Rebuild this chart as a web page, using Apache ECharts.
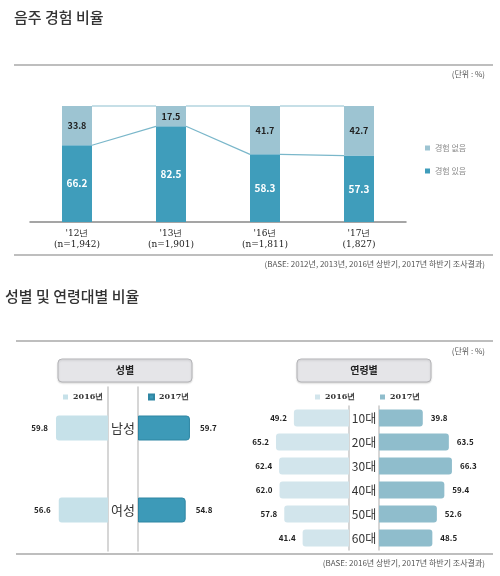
<!DOCTYPE html>
<html>
<head>
<meta charset="utf-8">
<script src="https://cdn.jsdelivr.net/npm/echarts@6/dist/echarts.min.js"></script>
<style>
    html, body {margin: 0; padding: 0; background: #fff;}
    #main {width: 500px; height: 576px;}
</style>
</head>
<body>
<div id="main"></div>
<script>
// 음주 경험 비율
var years = ["'12년\n(n=1,942)", "'13년\n(n=1,901)", "'16년\n(n=1,811)", "'17년\n(1,827)"];
var drinkYes = [66.2, 82.5, 58.3, 57.3];
var drinkNo = [33.8, 17.5, 41.7, 42.7];

// 성별
var genders = ['남성', '여성'];
var gender2016 = [59.8, 56.6];
var gender2017 = [59.7, 54.8];

// 연령별
var ages = ['10대', '20대', '30대', '40대', '50대', '60대'];
var age2016 = [49.2, 65.2, 62.4, 62.0, 57.8, 41.4];
var age2017 = [39.8, 63.5, 66.3, 59.4, 52.6, 48.5];

var FONT = "'Noto Sans CJK KR', 'Noto Sans', sans-serif";
var C_DARK = '#3f9dbb', C_LIGHT = '#9dc4d2';
var G16 = '#c6e1e9', G17 = '#3d9ab8';
var A16 = '#d2e5ec', A17 = '#8fbdcc';

var chart = echarts.init(document.getElementById('main'));

// 막대 사이 연결선
var links = [];
for (var i = 0; i < years.length - 1; i++) {
    links.push([i, drinkYes[i], drinkYes[i + 1]]);
}
var BAR_W = 30;

function hLine(x1, x2, y, w) {
    return {type: 'line', shape: {x1: x1, y1: y, x2: x2, y2: y}, style: {stroke: '#a8a8a8', lineWidth: w || 1.5}, silent: true};
}
function txt(x, y, s, opt) {
    return {type: 'text', x: x, y: y, style: echarts.util.extend({text: s, font: '8px ' + FONT, fill: '#555'}, opt || {})};
}
function header(x, y, w, h, s) {
    return [{
        type: 'rect', shape: {x: x, y: y, width: w, height: h, r: 4},
        style: {fill: '#e5e5e8', stroke: '#b5b5b8', lineWidth: 1, shadowBlur: 2, shadowColor: 'rgba(0,0,0,0.15)', shadowOffsetY: 1}
    }, {
        type: 'text', x: x + w / 2, y: y + h / 2,
        style: {text: s, font: 'bold 10px ' + FONT, fill: '#222', align: 'center', verticalAlign: 'middle'}
    }];
}

var graphics = [
    txt(14, 10, '음주 경험 비율', {font: '500 15px ' + FONT, fill: '#333'}),
    hLine(14, 493, 65),
    txt(485, 70, '(단위 : %)', {align: 'right'}),
    hLine(14, 493, 255),
    txt(485, 260, '(BASE: 2012년, 2013년, 2016년 상반기, 2017년 하반기 조사결과)', {align: 'right'}),
    txt(5, 289, '성별 및 연령대별 비율', {font: '500 15px ' + FONT, fill: '#333'}),
    hLine(16, 493, 341),
    txt(485, 347, '(단위 : %)', {align: 'right'}),
    hLine(16, 493, 554),
    txt(485, 559, '(BASE: 2016년 상반기, 2017년 하반기 조사결과)', {align: 'right'})
].concat(header(58, 359, 134, 23, '성별'), header(297, 359, 134, 23, '연령별'));

function smallLegend(name, x, y) {
    return {
        data: [name], left: x, top: y, icon: 'rect', itemWidth: 5, itemHeight: 5,
        selectedMode: false, padding: 0,
        formatter: function (n) { return n.slice(1) + '년'; },
        textStyle: {fontSize: 8, color: '#333', fontWeight: 'bold', fontFamily: 'DejaVu Serif, serif'}
    };
}

var option = {
    animation: false,
    textStyle: {fontFamily: FONT},
    graphic: graphics,
    legend: [
        {
            data: ['경험 없음', '경험 있음'], orient: 'vertical', left: 425, top: 144,
            icon: 'rect', itemWidth: 5, itemHeight: 5, itemGap: 15, selectedMode: false, padding: 0,
            textStyle: {fontSize: 8, color: '#888'}
        },
        smallLegend('g2016', 63, 393),
        smallLegend('g2017', 148, 393),
        smallLegend('a2016', 315, 393),
        smallLegend('a2017', 380, 393)
    ],
    grid: [
        {left: 30, width: 376, top: 106, height: 116},
        {left: 21, width: 87, top: 387, height: 164},
        {left: 138, width: 87, top: 387, height: 164},
        {left: 237, width: 112, top: 406, height: 144},
        {left: 379, width: 110, top: 406, height: 144}
    ],
    xAxis: [
        {
            gridIndex: 0, type: 'category', data: years,
            axisLine: {lineStyle: {color: '#888', width: 1.5}}, axisTick: {show: false},
            axisLabel: {fontSize: 9, color: '#222', lineHeight: 11, margin: 6, fontFamily: 'DejaVu Serif, serif'}
        },
        {gridIndex: 1, type: 'value', min: 0, max: 100, inverse: true, show: false},
        {gridIndex: 2, type: 'value', min: 0, max: 100, show: false},
        {gridIndex: 3, type: 'value', min: 0, max: 100, inverse: true, show: false},
        {gridIndex: 4, type: 'value', min: 0, max: 100, show: false}
    ],
    yAxis: [
        {gridIndex: 0, type: 'value', min: 0, max: 100, show: false},
        {
            gridIndex: 1, type: 'category', data: genders, inverse: true, position: 'right',
            axisLine: {lineStyle: {color: '#c8c8c8', width: 1.5}}, axisTick: {show: false}, axisLabel: {show: false}
        },
        {
            gridIndex: 2, type: 'category', data: genders, inverse: true,
            axisLine: {lineStyle: {color: '#c8c8c8', width: 1.5}}, axisTick: {show: false},
            axisLabel: {align: 'center', margin: 15, fontSize: 13, color: '#333'}
        },
        {
            gridIndex: 3, type: 'category', data: ages, inverse: true, position: 'right',
            axisLine: {lineStyle: {color: '#c8c8c8', width: 1.5}}, axisTick: {show: false}, axisLabel: {show: false}
        },
        {
            gridIndex: 4, type: 'category', data: ages, inverse: true,
            axisLine: {lineStyle: {color: '#c8c8c8', width: 1.5}}, axisTick: {show: false},
            axisLabel: {align: 'center', margin: 15, fontSize: 12, color: '#333'}
        }
    ],
    series: [
        {
            name: '경험 있음', type: 'bar', stack: 'd', data: drinkYes, barWidth: BAR_W,
            itemStyle: {color: C_DARK},
            label: {show: true, position: 'inside', color: '#fff', fontSize: 10, fontWeight: 'bold'}
        },
        {
            name: '경험 없음', type: 'bar', stack: 'd', data: drinkNo, barWidth: BAR_W,
            itemStyle: {color: C_LIGHT},
            label: {show: true, position: 'inside', color: '#222', fontSize: 9, fontWeight: 'bold'}
        },
        {
            type: 'custom', data: links, silent: true, z: 1,
            renderItem: function (params, api) {
                var a = api.coord([api.value(0), api.value(1)]);
                var b = api.coord([api.value(0) + 1, api.value(2)]);
                var ta = api.coord([api.value(0), 100]);
                var tb = api.coord([api.value(0) + 1, 100]);
                var h = BAR_W / 2;
                return {
                    type: 'group', children: [
                        {type: 'line', shape: {x1: a[0] + h, y1: a[1], x2: b[0] - h, y2: b[1]}, style: {stroke: '#7ab7ca', lineWidth: 1.2}},
                        {type: 'line', shape: {x1: ta[0] + h, y1: ta[1], x2: tb[0] - h, y2: tb[1]}, style: {stroke: '#b3d4df', lineWidth: 1.5}}
                    ]
                };
            }
        },
        {
            name: 'g2016', type: 'bar', xAxisIndex: 1, yAxisIndex: 1, data: gender2016, barWidth: 25,
            itemStyle: {color: G16, borderRadius: [3, 0, 0, 3]},
            label: {show: true, position: 'left', distance: 8, color: '#222', fontSize: 8, fontWeight: 'bold'}
        },
        {
            name: 'g2017', type: 'bar', xAxisIndex: 2, yAxisIndex: 2, data: gender2017, barWidth: 25,
            itemStyle: {color: G17, borderColor: '#2f86a3', borderWidth: 1, borderRadius: [0, 3, 3, 0]},
            label: {show: true, position: 'right', distance: 10, color: '#222', fontSize: 8, fontWeight: 'bold'}
        },
        {
            name: 'a2016', type: 'bar', xAxisIndex: 3, yAxisIndex: 3, data: age2016, barWidth: 17,
            itemStyle: {color: A16, borderRadius: [3, 0, 0, 3]},
            label: {show: true, position: 'left', distance: 7, color: '#222', fontSize: 8, fontWeight: 'bold',
                formatter: function (p) { return p.value.toFixed(1); }}
        },
        {
            name: 'a2017', type: 'bar', xAxisIndex: 4, yAxisIndex: 4, data: age2017, barWidth: 17,
            itemStyle: {color: A17, borderRadius: [0, 3, 3, 0]},
            label: {show: true, position: 'right', distance: 8, color: '#222', fontSize: 8, fontWeight: 'bold'}
        }
    ]
};
chart.setOption(option);
</script>
</body>
</html>
